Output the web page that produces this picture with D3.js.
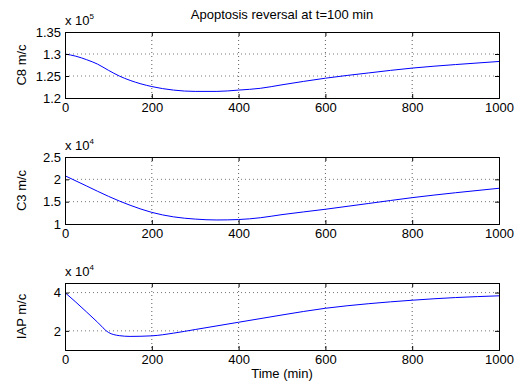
<!DOCTYPE html>
<html>
<head>
<meta charset="utf-8">
<script src="https://cdn.jsdelivr.net/npm/d3@7"></script>
<style>
  body { margin: 0; background: #fff; }
  svg text { font-family: "Liberation Sans", Arial, sans-serif; }
</style>
</head>
<body>
<div id="chart"></div>
<script>
// time points (min) and series values
const c8Time = [0, 25, 50, 75, 100, 125, 150, 200, 250, 300, 350, 400, 450, 500, 600, 700, 800, 900, 1000];
const c8Vals = [1.300, 1.295, 1.287, 1.277, 1.263, 1.250, 1.240, 1.226, 1.218, 1.215, 1.215, 1.218, 1.222, 1.230, 1.245, 1.257, 1.268, 1.276, 1.283];

const c3Time = [0, 50, 100, 150, 200, 250, 300, 350, 400, 450, 500, 600, 700, 800, 900, 1000];
const c3Vals = [2.08, 1.85, 1.62, 1.42, 1.26, 1.16, 1.11, 1.09, 1.10, 1.14, 1.21, 1.33, 1.46, 1.59, 1.70, 1.80];

const iapTime = [0, 25, 50, 75, 100, 125, 150, 200, 250, 300, 400, 500, 600, 700, 800, 900, 1000];
const iapVals = [4.0, 3.5, 2.98, 2.45, 1.92, 1.75, 1.71, 1.74, 1.88, 2.07, 2.45, 2.83, 3.18, 3.42, 3.60, 3.74, 3.83];

const xTicks = [0, 200, 400, 600, 800, 1000];
const c8Ticks = [1.2, 1.25, 1.3, 1.35];
const c3Ticks = [1, 1.5, 2, 2.5];
const iapTicks = [2, 4];

const width = 520, height = 385;
const L = 65, R = 499;
const fs = 13;

const panels = [
  { time: c8Time, vals: c8Vals, ticks: c8Ticks, domain: [1.2, 1.35], top: 32, bottom: 98, label: 'C8 m/c', exp: '5' },
  { time: c3Time, vals: c3Vals, ticks: c3Ticks, domain: [1, 2.5], top: 157, bottom: 224, label: 'C3 m/c', exp: '4' },
  { time: iapTime, vals: iapVals, ticks: iapTicks, domain: [1, 4.5], top: 283, bottom: 350, label: 'IAP m/c', exp: '4' }
];

const svg = d3.select('#chart').append('svg')
  .attr('width', width).attr('height', height);

const x = d3.scaleLinear().domain([0, 1000]).range([L, R]);

panels.forEach(p => {
  const y = d3.scaleLinear().domain(p.domain).range([p.bottom, p.top]);
  const g = svg.append('g');

  // grid
  g.append('g').selectAll('line')
    .data(xTicks.filter(t => t > 0 && t < 1000))
    .enter().append('line')
    .attr('x1', d => x(d)).attr('x2', d => x(d))
    .attr('y1', p.top).attr('y2', p.bottom)
    .attr('stroke', '#333').attr('stroke-width', 0.8)
    .attr('stroke-dasharray', '1,3');
  g.append('g').selectAll('line')
    .data(p.ticks.filter(t => t > p.domain[0] && t < p.domain[1]))
    .enter().append('line')
    .attr('x1', L).attr('x2', R)
    .attr('y1', d => y(d)).attr('y2', d => y(d))
    .attr('stroke', '#555').attr('stroke-width', 0.8)
    .attr('stroke-dasharray', '1,3');

  // curve
  const pts = p.time.map((t, i) => [t, p.vals[i]]);
  g.append('path')
    .datum(pts)
    .attr('fill', 'none')
    .attr('stroke', '#0000ff')
    .attr('stroke-width', 1)
    .attr('d', d3.line().x(d => x(d[0])).y(d => y(d[1])).curve(d3.curveMonotoneX));

  // axes, ticks pointing inward like matlab
  const ax = g.append('g').attr('transform', `translate(0,${p.bottom})`)
    .call(d3.axisBottom(x).tickValues(xTicks).tickSize(-4).tickPadding(5).tickFormat(d3.format('d')));
  const axTop = g.append('g').attr('transform', `translate(0,${p.top})`)
    .call(d3.axisTop(x).tickValues(xTicks).tickSize(-4).tickFormat(''));
  const ay = g.append('g').attr('transform', `translate(${L},0)`)
    .call(d3.axisLeft(y).tickValues(p.ticks).tickSize(-4).tickPadding(4).tickFormat(d => String(d)));
  const ayR = g.append('g').attr('transform', `translate(${R},0)`)
    .call(d3.axisRight(y).tickValues(p.ticks).tickSize(-4).tickFormat(''));

  [ax, axTop, ay, ayR].forEach(a => {
    a.select('.domain').attr('stroke', '#000').attr('stroke-width', 1);
    a.selectAll('.tick line').attr('stroke', '#000');
    a.selectAll('text').attr('font-size', fs).attr('fill', '#000')
      .style('font-family', '"Liberation Sans", Arial, sans-serif');
  });

  // y label
  svg.append('text')
    .attr('transform', `translate(26,${(p.top + p.bottom) / 2}) rotate(-90)`)
    .attr('text-anchor', 'middle')
    .attr('font-size', fs)
    .text(p.label);

  // exponent label
  const ex = svg.append('text')
    .attr('x', L).attr('y', p.top - 7)
    .attr('font-size', fs);
  ex.append('tspan').text('x 10');
  ex.append('tspan').attr('font-size', 8).attr('dy', -6).text(p.exp);
});

svg.append('text')
  .attr('x', (L + R) / 2).attr('y', 19)
  .attr('text-anchor', 'middle')
  .attr('font-size', fs)
  .text('Apoptosis reversal at t=100 min');

svg.append('text')
  .attr('x', (L + R) / 2).attr('y', 378)
  .attr('text-anchor', 'middle')
  .attr('font-size', fs)
  .text('Time (min)');
</script>
</body>
</html>
